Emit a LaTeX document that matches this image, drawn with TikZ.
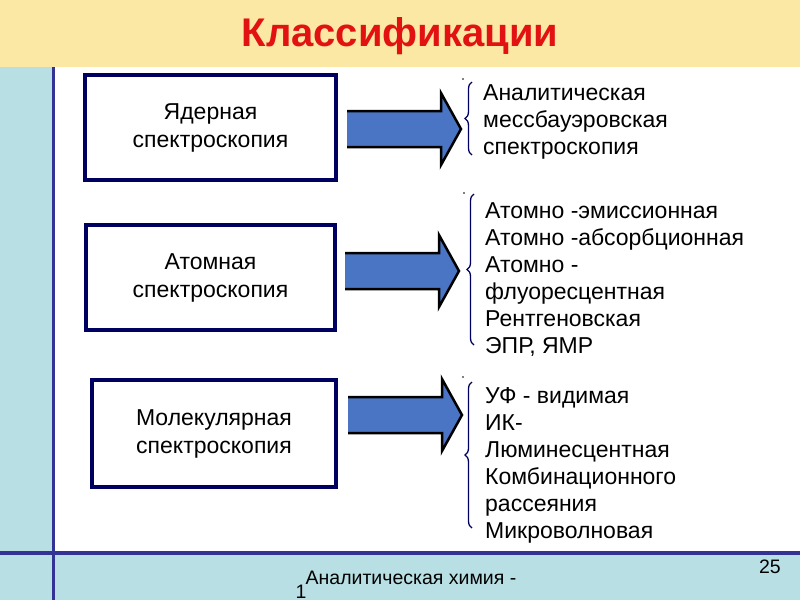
\documentclass[tikz,border=0pt]{standalone}
\usepackage{fontspec}
\setmainfont{Liberation Sans}
\usetikzlibrary{decorations.pathreplacing}
\definecolor{band}{RGB}{251,232,164}
\definecolor{strip}{RGB}{184,224,228}
\definecolor{navyline}{RGB}{51,51,150}
\definecolor{boxnavy}{RGB}{0,0,96}
\definecolor{arrowblue}{RGB}{74,116,196}
\definecolor{titlered}{RGB}{226,18,18}
\begin{document}
\begin{tikzpicture}[x=1pt,y=-1pt,
  catbox/.style={draw=boxnavy,line width=4pt,fill=white,align=center,inner sep=0pt,
    font=\fontsize{23}{28}\selectfont},
  listtxt/.style={anchor=base west,inner sep=0pt,font=\fontsize{23}{27}\selectfont},
  foottxt/.style={inner sep=0pt,font=\fontsize{19.5}{22}\selectfont},
  bracestyle/.style={draw=boxnavy,line width=1.3pt,decorate,decoration={brace,amplitude=7pt}},
  pics/blockarr/.style={code={
    \fill[arrowblue] (0,-18) -- (94,-18) -- (94,-36) -- (114,0) -- (94,36) -- (94,18) -- (0,18) -- cycle;
    \draw[black,line width=2.5pt,line join=miter] (0,-18) -- (94,-18) -- (94,-36) -- (114,0) -- (94,36) -- (94,18) -- (0,18);
  }}]
\useasboundingbox (0,0) rectangle (800,600);
% background
\fill[white] (0,0) rectangle (800,600);
\fill[band] (0,0) rectangle (800,67);
\fill[strip] (0,67) rectangle (53,553);
\fill[strip] (0,553) rectangle (800,600);
\draw[navyline,line width=3.5pt] (53.5,67) -- (53.5,600);
\draw[navyline,line width=3.5pt] (0,553) -- (800,553);
% title
\node[font=\fontsize{40}{44}\selectfont\bfseries,text=titlered,inner sep=0pt] (title) at (400,36) {Классификации};
% boxes
\node[catbox,minimum width=251pt,minimum height=105pt] (b1) at (210.5,127.5) {Ядерная\\спектроскопия};
\node[catbox,minimum width=249pt,minimum height=105pt] (b2) at (210.5,277.5) {Атомная\\спектроскопия};
\node[catbox,minimum width=244pt,minimum height=107pt] (b3) at (214,433.5) {Молекулярная\\спектроскопия};
% arrows
\pic at (347,129) {blockarr};
\pic at (345,271) {blockarr};
\pic at (348,415) {blockarr};
% braces
\draw[bracestyle] (472,155) -- (472,82);
\draw[bracestyle] (474,345) -- (474,194);
\draw[bracestyle] (472,528) -- (472,382);
\fill[black] (463,79) circle (0.8);
\fill[black] (464,193) circle (0.8);
\fill[black] (463,377) circle (0.8);
% lists
\foreach \t [count=\i] in {Аналитическая, мессбауэровская, спектроскопия}
  \node[listtxt] (la\i) at (483,{100+27*(\i-1)}) {\t};
\foreach \t [count=\i] in {Атомно -эмиссионная, Атомно -абсорбционная, Атомно -, флуоресцентная, Рентгеновская, {ЭПР, ЯМР}}
  \node[listtxt] (lb\i) at (485,{218+27*(\i-1)}) {\t};
\foreach \t [count=\i] in {УФ - видимая, ИК-, Люминесцентная, Комбинационного, рассеяния, Микроволновая}
  \node[listtxt] (lc\i) at (485,{403+27*(\i-1)}) {\t};
% footer
\node[foottxt,anchor=base] (foot) at (411,584) {Аналитическая химия -};
\node[foottxt,anchor=base] (foot1) at (301,598) {1};
\node[foottxt,anchor=base east] (pnum) at (781,573) {25};
\end{tikzpicture}
\end{document}
